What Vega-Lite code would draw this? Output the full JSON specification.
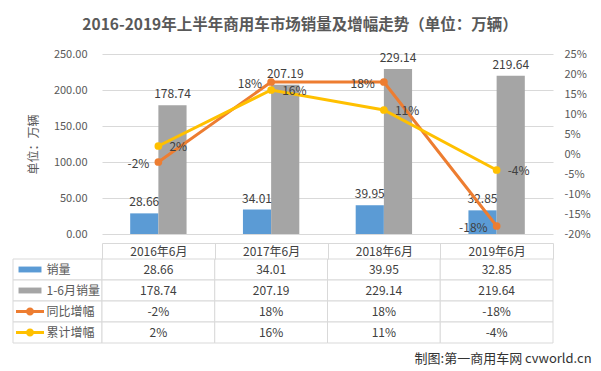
{
  "$schema": "https://vega.github.io/schema/vega-lite/v6.json",
  "padding": {"left": 12, "top": 17, "right": 8, "bottom": 5},
  "background": "white",
  "title": {"text": "2016-2019年上半年商用车市场销量及增幅走势（单位：万辆）", "fontSize": 15.5, "fontWeight": "bold", "color": "#595959", "anchor": "middle", "dx": -2, "offset": 15},
  "datasets": {
    "main": [
      {"cat": "2016年6月", "sales": 28.66, "ytd": 178.74, "yoy": -0.02, "cum": 0.02},
      {"cat": "2017年6月", "sales": 34.01, "ytd": 207.19, "yoy": 0.18, "cum": 0.16},
      {"cat": "2018年6月", "sales": 39.95, "ytd": 229.14, "yoy": 0.18, "cum": 0.11},
      {"cat": "2019年6月", "sales": 32.85, "ytd": 219.64, "yoy": -0.18, "cum": -0.04}
    ],
    "rows": [
      {"key": "sales", "name": "销量"},
      {"key": "ytd", "name": "1-6月销量"},
      {"key": "yoy", "name": "同比增幅"},
      {"key": "cum", "name": "累计增幅"}
    ],
    "note": [{"t": "制图:第一商用车网 cvworld.cn"}]
  },
  "columns": 2,
  "align": "each",
  "bounds": "flush",
  "spacing": {"row": 25, "column": 0},
  "concat": [
    {
      "width": 89, "height": 180,
      "data": {"values": [{"a": 1}]},
      "mark": {"type": "text"},
      "encoding": {"text": {"value": ""}}
    },
    {
      "width": 451, "height": 180,
      "data": {"name": "main"},
      "layer": [
        {
          "transform": [{"fold": ["sales", "ytd"], "as": ["key", "value"]}],
          "encoding": {
            "x": {"field": "cat", "type": "nominal", "sort": null, "axis": null, "scale": {"paddingInner": 0, "paddingOuter": 0}},
            "xOffset": {"field": "key", "type": "nominal", "sort": ["sales", "ytd"], "scale": {"paddingInner": 0, "paddingOuter": 1.09}},
            "y": {"field": "value", "type": "quantitative", "scale": {"domain": [0, 250], "nice": false},
              "axis": {"values": [0, 50, 100, 150, 200, 250], "format": ".2f", "domain": false, "ticks": false, "grid": true, "gridColor": "#d9d9d9", "labelPadding": 15, "labelFontSize": 11, "labelColor": "#595959", "title": "单位：万辆", "titleFontSize": 12, "titleFontWeight": "normal", "titleColor": "#595959", "titleX": -62}}
          },
          "layer": [
            {"mark": {"type": "bar"}, "encoding": {"color": {"field": "key", "type": "nominal", "scale": {"domain": ["sales", "ytd", "yoy", "cum"], "range": ["#5b9bd5", "#a5a5a5", "#ed7d31", "#ffc000"]}, "legend": null}}},
            {"mark": {"type": "text", "baseline": "bottom", "dy": -4, "fontSize": 12, "color": "#404040"}, "encoding": {"text": {"field": "value", "type": "quantitative", "format": ".2f"}}}
          ]
        },
        {
          "transform": [{"fold": ["yoy", "cum"], "as": ["key", "value"]}],
          "encoding": {
            "x": {"field": "cat", "type": "nominal", "sort": null, "axis": null},
            "y": {"field": "value", "type": "quantitative", "scale": {"domain": [-0.2, 0.25], "nice": false},
              "axis": {"orient": "right", "values": [-0.2, -0.15, -0.1, -0.05, 0, 0.05, 0.1, 0.15, 0.2, 0.25], "format": ".0%", "domain": false, "ticks": false, "grid": false, "labelPadding": 11, "labelFontSize": 11, "labelColor": "#595959", "title": null}},
            "color": {"field": "key", "type": "nominal", "scale": {"domain": ["sales", "ytd", "yoy", "cum"], "range": ["#5b9bd5", "#a5a5a5", "#ed7d31", "#ffc000"]}, "legend": null}
          },
          "layer": [
            {"mark": {"type": "line", "strokeWidth": 3}},
            {"mark": {"type": "point", "filled": true, "size": 60, "opacity": 1}},
            {"transform": [{"filter": "datum.key === 'yoy'"}], "mark": {"type": "text", "align": "right", "dx": -9, "dy": 2, "baseline": "middle", "fontSize": 12}, "encoding": {"text": {"field": "value", "type": "quantitative", "format": ".0%"}, "color": {"value": "#404040"}}},
            {"transform": [{"filter": "datum.key === 'cum'"}], "mark": {"type": "text", "align": "left", "dx": 11, "dy": 1, "baseline": "middle", "fontSize": 12}, "encoding": {"text": {"field": "value", "type": "quantitative", "format": ".0%"}, "color": {"value": "#404040"}}}
          ]
        }
      ],
      "resolve": {"scale": {"y": "independent"}}
    },
    {
      "width": 89, "height": 84,
      "data": {"name": "rows"},
      "encoding": {"y": {"field": "key", "type": "nominal", "sort": ["sales", "ytd", "yoy", "cum"], "axis": null, "scale": {"paddingInner": 0, "paddingOuter": 0}}},
      "layer": [
        {"mark": {"type": "rect", "fill": "white", "stroke": "#d9d9d9", "strokeWidth": 1}},
        {"mark": {"type": "point", "filled": true, "size": 784, "opacity": 1},
          "encoding": {
            "x": {"datum": 17, "type": "quantitative", "scale": {"domain": [0, 89], "nice": false}, "axis": null},
            "shape": {"field": "key", "type": "nominal", "scale": {"domain": ["sales", "ytd", "yoy", "cum"], "range": ["M-0.82,-0.21H0.82V0.21H-0.82Z", "M-0.82,-0.21H0.82V0.21H-0.82Z", "M-1,-0.11H1V0.11H-1Z M-0.29,0 A0.29,0.29 0 1 1 0.29,0 A0.29,0.29 0 1 1 -0.29,0 Z", "M-1,-0.11H1V0.11H-1Z M-0.29,0 A0.29,0.29 0 1 1 0.29,0 A0.29,0.29 0 1 1 -0.29,0 Z"]}, "legend": null},
            "color": {"field": "key", "type": "nominal", "scale": {"domain": ["sales", "ytd", "yoy", "cum"], "range": ["#5b9bd5", "#a5a5a5", "#ed7d31", "#ffc000"]}, "legend": null}
          }},
        {"mark": {"type": "text", "align": "left", "baseline": "middle", "fontSize": 12, "color": "#595959"},
          "encoding": {
            "x": {"datum": 33.5, "type": "quantitative", "scale": {"domain": [0, 89], "nice": false}, "axis": null},
            "text": {"field": "name"}
          }}
      ]
    },
    {
      "width": 451, "height": 84,
      "data": {"name": "main"},
      "encoding": {
        "x": {"field": "cat", "type": "nominal", "sort": null, "scale": {"paddingInner": 0, "paddingOuter": 0},
          "axis": {"orient": "top", "offset": 16, "domain": true, "domainColor": "#d9d9d9", "ticks": true, "tickBand": "extent", "tickSize": -16, "tickColor": "#d9d9d9", "labelPadding": 8, "labelBaseline": "middle", "labelFontSize": 12, "labelColor": "#404040", "labelAngle": 0, "title": null}}
      },
      "layer": [
        {"transform": [{"fold": ["sales", "ytd", "yoy", "cum"], "as": ["key", "value"]}],
          "mark": {"type": "rect", "fill": "white", "stroke": "#d9d9d9", "strokeWidth": 1},
          "encoding": {"y": {"field": "key", "type": "nominal", "sort": ["sales", "ytd", "yoy", "cum"], "axis": null, "scale": {"domain": ["sales", "ytd", "yoy", "cum"], "paddingInner": 0, "paddingOuter": 0}}}},
        {"mark": {"type": "text", "baseline": "middle", "fontSize": 12, "color": "#404040"},
          "encoding": {"y": {"datum": "sales", "type": "nominal"}, "text": {"field": "sales", "type": "quantitative", "format": ".2f"}}},
        {"mark": {"type": "text", "baseline": "middle", "fontSize": 12, "color": "#404040"},
          "encoding": {"y": {"datum": "ytd", "type": "nominal"}, "text": {"field": "ytd", "type": "quantitative", "format": ".2f"}}},
        {"mark": {"type": "text", "baseline": "middle", "fontSize": 12, "color": "#404040"},
          "encoding": {"y": {"datum": "yoy", "type": "nominal"}, "text": {"field": "yoy", "type": "quantitative", "format": ".0%"}}},
        {"mark": {"type": "text", "baseline": "middle", "fontSize": 12, "color": "#404040"},
          "encoding": {"y": {"datum": "cum", "type": "nominal"}, "text": {"field": "cum", "type": "quantitative", "format": ".0%"}}},
        {"data": {"name": "note"},
          "mark": {"type": "text", "align": "right", "baseline": "middle", "dx": 95, "dy": 26, "fontSize": 13, "color": "#333333"},
          "encoding": {"x": {"datum": "2019年6月", "type": "nominal"}, "y": {"datum": "cum", "type": "nominal"}, "text": {"field": "t"}}}
      ]
    }
  ],
  "config": {
    "view": {"stroke": null},
    "font": "Noto Sans CJK SC",
    "locale": {"number": {"decimal": ".", "thousands": ",", "grouping": [3], "currency": ["$", ""], "minus": "-"}}
  }
}
